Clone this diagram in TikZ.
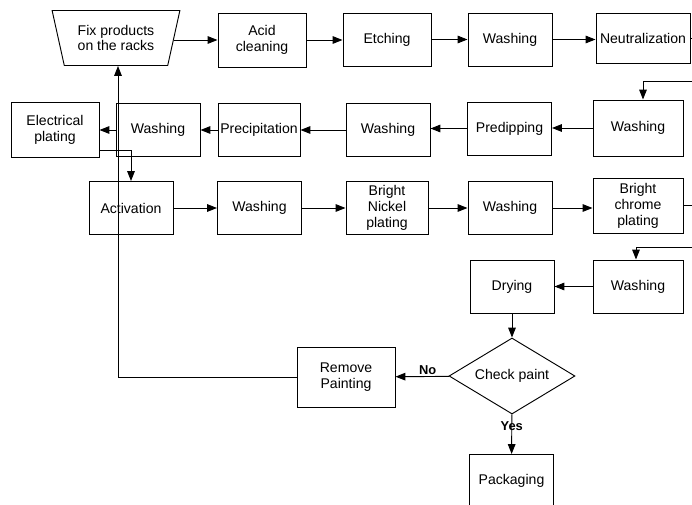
\documentclass[tikz,border=0pt]{standalone}
\usepackage{fontspec}
\setmainfont{Liberation Sans}
\usetikzlibrary{shapes.geometric,arrows.meta}

\begin{document}
\begin{tikzpicture}[
  x=0.03cm, y=-0.03cm,
  every node/.style={font=\fontsize{12}{13.6}\selectfont, align=center, inner sep=1pt},
  box/.style={draw, line width=0.8pt, minimum width=2.52cm, minimum height=1.59cm},
  rack/.style={draw, line width=0.8pt, shape=trapezium, trapezium angle=72,
    shape border rotate=180, trapezium stretches=true,
    minimum width=3.84cm, minimum height=1.65cm},
  decision/.style={draw, line width=0.8pt, shape=diamond, aspect=1.66, inner sep=0pt,
    minimum width=3.78cm, minimum height=2.28cm},
  arr/.style={line width=0.8pt, -{Triangle[length=8.5pt,width=6.5pt]}},
  link/.style={line width=0.8pt},
  tag/.style={font=\fontsize{11}{13}\selectfont\bfseries}
]
\useasboundingbox (0,0) rectangle (692,505);
\clip (0,0) rectangle (692,505);

\node[rack] (fix) at (116,38) {Fix products\\on the racks};
\node[box, minimum width=2.64cm, minimum height=1.62cm] (acid) at (262,40) {Acid\\cleaning};
\node[box, minimum width=2.64cm] (etch) at (387,39.5) {Etching};
\node[box] (wash1) at (510,39.5) {Washing};
\node[box, minimum width=2.82cm, minimum height=1.5cm] (neut) at (643,38) {Neutralization};

\node[box, minimum width=2.7cm, minimum height=1.68cm] (wash3) at (638,128) {Washing};
\node[box] (predip) at (509.5,128.5) {Predipping};
\node[box] (wash4) at (388,130) {Washing};
\node[box, minimum width=2.46cm] (precip) at (259,130) {Precipitation};
\node[box] (wash5) at (158,130) {Washing};
\node[box, minimum width=2.64cm, minimum height=1.65cm] (elec) at (55,129.5) {Electrical\\plating};

\node[box] (activ) at (131,208) {Activation};
\node[box] (wash6) at (259.5,208) {Washing};
\node[box, minimum width=2.46cm] (nickel) at (387,208) {Bright\\Nickel\\plating};
\node[box] (wash7) at (510,208) {Washing};
\node[box, minimum width=2.7cm, minimum height=1.65cm] (chrome) at (638,205.5) {Bright\\chrome\\plating};

\node[box, minimum width=2.7cm] (wash8) at (638,286.5) {Washing};
\node[box] (dry) at (512,286.5) {Drying};
\node[decision] (check) at (512,376) {Check paint};
\node[box, minimum width=2.94cm, minimum height=1.8cm] (remove) at (346,377) {Remove\\Painting};
\node[box] (pack) at (511.5,481) {Packaging};

\coordinate (turn1) at (693,81);
\coordinate (turn2) at (693,247);

\draw[arr] (fix.east |- acid.west) -- (acid.west);
\draw[arr] (acid.east) -- (acid.east -| etch.west);
\draw[arr] (etch.east) -- (etch.east -| wash1.west);
\draw[arr] (wash1.east) -- (wash1.east -| neut.west);
\draw[link] (neut.east) -| (turn1);
\draw[arr] (turn1) -| ([xshift=0.15cm]wash3.north);

\draw[arr] (wash3.west) -- (wash3.west -| predip.east);
\draw[arr] (predip.west) -- (predip.west -| wash4.east);
\draw[arr] (wash4.west) -- (wash4.west -| precip.east);
\draw[arr] (precip.west) -- (precip.west -| wash5.east);
\draw[arr] (wash5.west) -- (wash5.west -| elec.east);
\draw[arr] ([yshift=0.21cm]elec.south east) -| (activ.north);

\draw[arr] (activ.east) -- (activ.east -| wash6.west);
\draw[arr] (wash6.east) -- (wash6.east -| nickel.west);
\draw[arr] (nickel.east) -- (nickel.east -| wash7.west);
\draw[arr] (wash7.east) -- (wash7.east -| chrome.west);
\draw[link] (chrome.east) -| (turn2);
\draw[arr] (turn2) -| ([xshift=-0.06cm]wash8.north);

\draw[arr] (wash8) -- (dry);
\draw[arr] (dry) -- (check);
\draw[arr] (check) -- node[tag, above, pos=0.4] {No} (remove);
\draw[arr] (check) -- node[tag, pos=0.3] {Yes} (pack);
\draw[arr] (remove.west) -| ([xshift=0.06cm]fix.south);
\end{tikzpicture}
\end{document}
